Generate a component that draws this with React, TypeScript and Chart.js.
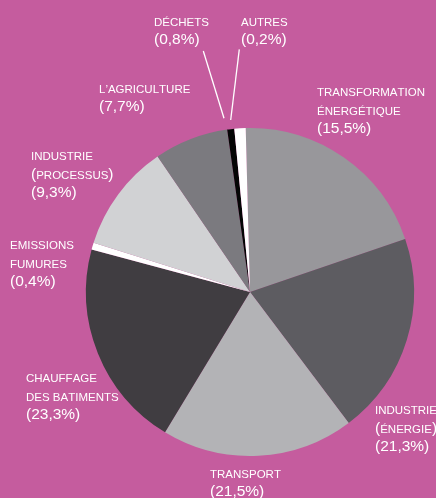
import React, { useEffect, useRef } from "react";
import { Chart, registerables } from "chart.js";

Chart.register(...registerables);

// ---- data ----
const categories = [
  "Transformation énergétique",
  "Industrie (énergie)",
  "Transport",
  "Chauffage des bâtiments",
  "Emissions fumures",
  "Industrie (processus)",
  "L’agriculture",
  "Déchets",
  "Autres",
];
const nameLines = [
  ["TRANSFORMATION", "ÉNERGÉTIQUE"],
  ["INDUSTRIE", "(ÉNERGIE)"],
  ["TRANSPORT"],
  ["CHAUFFAGE", "DES BATIMENTS"],
  ["EMISSIONS", "FUMURES"],
  ["INDUSTRIE", "(PROCESSUS)"],
  ["L’AGRICULTURE"],
  ["DÉCHETS"],
  ["AUTRES"],
];
const percentLabels = ["(15,5%)", "(21,3%)", "(21,5%)", "(23,3%)", "(0,4%)", "(9,3%)", "(7,7%)", "(0,8%)", "(0,2%)"];
// slice sizes as drawn in the picture (degrees of arc)
const sliceSizes = [72.6, 71.9, 68.2, 73.8, 2.5, 38.2, 26.3, 2.5, 4.0];

// ---- styles / layout ----
const BG = "#c55c9e";
const sliceColors = ["#98979b", "#5d5c61", "#b3b3b6", "#403d41", "#ffffff", "#d1d2d4", "#7b7a7f", "#050505", "#ffffff"];
const labelPos = [
  { x: 317, y: 96 },
  { x: 375, y: 414 },
  { x: 210, y: 478 },
  { x: 26, y: 382 },
  { x: 10, y: 249 },
  { x: 31, y: 160 },
  { x: 99, y: 93 },
  { x: 154, y: 26 },
  { x: 241, y: 26 },
];
const leaders: (number[] | null)[] = [null, null, null, null, null, null, null, [203.3, 51, 224, 118.3], [239.3, 49.3, 230.7, 120]];
const FONT = "'Liberation Sans', Arial, Helvetica, sans-serif";
const NAME_SIZE = 11.5;
const PCT_SIZE = 15.5;
const LINE_GAP = 19;
const PCT_GAP = 18;

function drawSmallCaps(ctx: CanvasRenderingContext2D, text: string, x: number, y: number) {
  let cx = x;
  for (const ch of text) {
    const big = ch === "(" || ch === ")";
    ctx.font = `${big ? PCT_SIZE : NAME_SIZE}px ${FONT}`;
    ctx.fillText(ch, cx, y);
    cx += ctx.measureText(ch).width;
  }
}

const labelPlugin = {
  id: "pieLabels",
  afterDraw(chart: any) {
    const ctx: CanvasRenderingContext2D = chart.ctx;
    ctx.save();
    ctx.fillStyle = "#ffffff";
    ctx.strokeStyle = "#ffffff";
    ctx.textBaseline = "alphabetic";
    ctx.textAlign = "left";
    nameLines.forEach((lines, i) => {
      const p = labelPos[i];
      let y = p.y;
      lines.forEach((ln, j) => {
        if (j > 0) y += LINE_GAP;
        drawSmallCaps(ctx, ln, p.x, y);
      });
      ctx.font = `${PCT_SIZE}px ${FONT}`;
      ctx.fillText(percentLabels[i], p.x, y + PCT_GAP);
      const l = leaders[i];
      if (l) {
        ctx.lineWidth = 1.3;
        ctx.beginPath();
        ctx.moveTo(l[0], l[1]);
        ctx.lineTo(l[2], l[3]);
        ctx.stroke();
      }
    });
    ctx.restore();
  },
};

export default function App() {
  const ref = useRef<HTMLCanvasElement | null>(null);
  useEffect(() => {
    if (!ref.current) return;
    const chart = new Chart(ref.current, {
      type: "pie",
      data: {
        labels: categories,
        datasets: [
          {
            data: sliceSizes,
            backgroundColor: sliceColors,
            borderWidth: 0,
          },
        ],
      },
      options: {
        responsive: false,
        maintainAspectRatio: false,
        devicePixelRatio: 1,
        animation: false,
        rotation: -1.5,
        layout: { padding: { left: 86, right: 22, top: 128, bottom: 42 } },
        plugins: {
          legend: { display: false },
          title: { display: false },
          tooltip: { enabled: false },
        },
      },
      plugins: [labelPlugin],
    });
    return () => chart.destroy();
  }, []);
  return (
    <div style={{ position: "fixed", left: 0, top: 0, width: 436, height: 498, background: BG, overflow: "hidden" }}>
      <canvas ref={ref} width={436} height={498} style={{ display: "block", width: 436, height: 498 }} />
    </div>
  );
}
